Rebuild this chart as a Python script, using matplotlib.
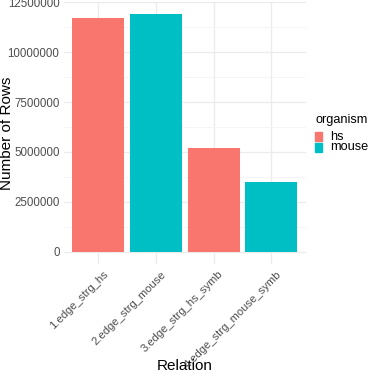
import numpy as np
import matplotlib.pyplot as plt
import matplotlib.transforms as mtransforms
from matplotlib.patches import Rectangle

plt.rcParams['font.family'] = ['Liberation Sans', 'DejaVu Sans']

relations = ['1.edge_strg_hs', '2.edge_strg_mouse', '3.edge_strg_hs_symb', '4.edge_strg_mouse_symb']
n_rows = [11740000, 11940000, 5200000, 3490000]
organism = ['hs', 'mouse', 'hs', 'mouse']
levels = ['hs', 'mouse']
palette = {'hs': '#F8766D', 'mouse': '#00BFC4'}
yticks = [0, 2500000, 5000000, 7500000, 10000000, 12500000]

fig = plt.figure(figsize=(3.74, 3.74), dpi=100)
ax = fig.add_axes([0.1703, 0.2952, 0.6476, 0.7003])

x = np.arange(len(relations))
ax.bar(x, n_rows, width=0.9, color=[palette[o] for o in organism], zorder=2)

ymax = max(n_rows)
ax.set_xlim(-0.6, len(relations) - 0.4)
ax.set_ylim(-0.05 * ymax, 1.05 * ymax)
ax.set_xticks(x)
ax.set_xticklabels([])
# rotated category labels, drawn as text so they can be nudged
trans = mtransforms.blended_transform_factory(ax.transData, ax.transAxes)
trans = trans + mtransforms.ScaledTranslation(4.5 / 100, -5.5 / 100, fig.dpi_scale_trans)
for xi, lab in zip(x, relations):
    ax.text(xi, 0, lab, transform=trans, rotation=45, rotation_mode='anchor',
            ha='right', va='top', fontsize=8.1, color='#4D4D4D')
ax.set_yticks(yticks)
ax.set_yticklabels([str(v) for v in yticks], fontsize=8.3, color='#4D4D4D')
ax.set_yticks([1250000, 3750000, 6250000, 8750000, 11250000], minor=True)
ax.tick_params(length=0, pad=3)
ax.tick_params(which='minor', length=0)
ax.grid(True, which='major', color='#EBEBEB', lw=0.9, zorder=0)
ax.grid(True, which='minor', axis='y', color='#F4F4F4', lw=0.6, zorder=0)
for s in ax.spines.values():
    s.set_visible(False)

ax.set_xlabel('Relation', fontsize=11)
ax.set_ylabel('Number of Rows', fontsize=11)
ax.xaxis.set_label_coords((185 - 63.7) / 242.2, -(370.5 - 263.6) / 262.0)
ax.yaxis.set_label_coords(-(63.7 - 7) / 242.2, (263.6 - 133) / 262.0)
ax.xaxis.label.set_va('baseline')
ax.yaxis.label.set_va('center')

# legend
fig.text(315 / 374, 1 - 120 / 374, 'organism', fontsize=9.2, va='center', ha='left')
for i, lev in enumerate(levels):
    yc = 1 - (136.5 + i * 11) / 374
    fig.patches.append(Rectangle((315 / 374, yc - 4.7 / 374), 7.3 / 374, 9.4 / 374,
                                 transform=fig.transFigure, color=palette[lev]))
    fig.text(330.5 / 374, yc, lev, fontsize=9.2, va='center', ha='left')

fig.savefig('out.png', dpi=100)
